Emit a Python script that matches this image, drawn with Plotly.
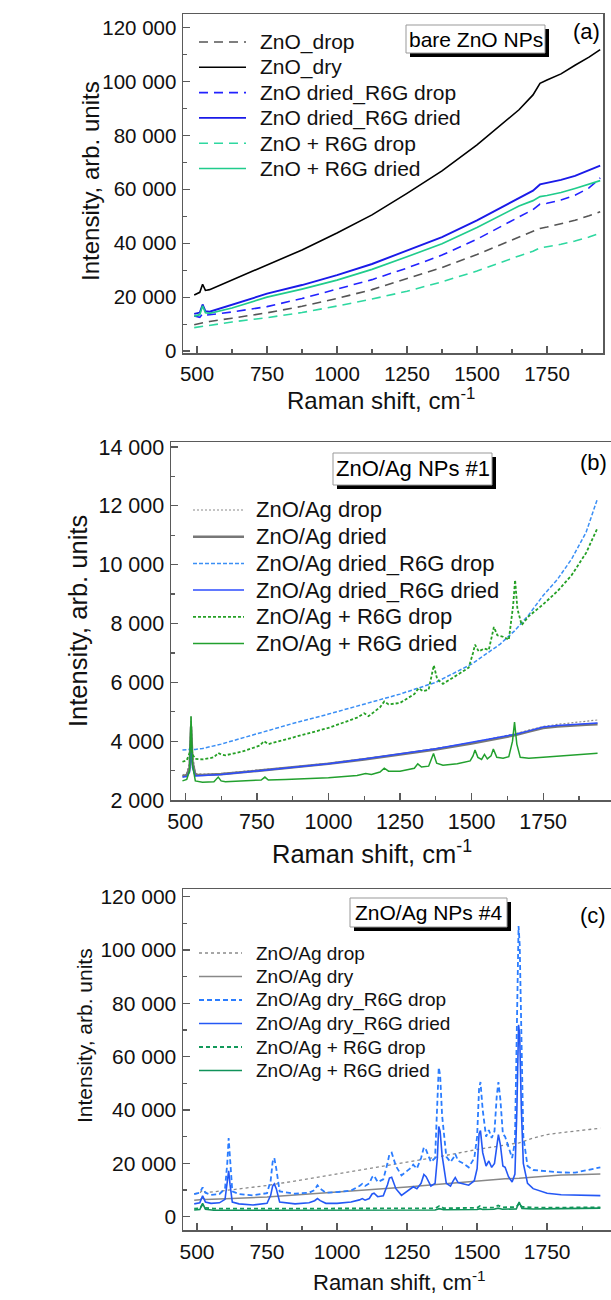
import plotly.graph_objects as go

# ---------------- Panel (a): bare ZnO NPs ----------------
a_x = [490, 510, 520, 530, 545, 625, 750, 875, 1000, 1125, 1250, 1375, 1500, 1600, 1650, 1700, 1725, 1750, 1800, 1850, 1900, 1940]
a_zno_drop = [9800, 10200, 10600, 10800, 11000, 12200, 14200, 16600, 19500, 22800, 26800, 31000, 35800, 40200, 42300, 44300, 45500, 46000, 47200, 48500, 50200, 51700]
a_zno_dry = [20800, 21800, 24800, 22500, 22800, 26300, 32000, 37500, 43800, 50500, 58500, 66800, 76500, 85000, 89500, 95000, 99300, 100500, 102800, 106000, 109000, 111800]
a_dried_r6g_drop = [13000, 12500, 13800, 13300, 13500, 14500, 16500, 19500, 23000, 26500, 30800, 35600, 41500, 47000, 50000, 52500, 54500, 54800, 56000, 57800, 60500, 64200]
a_dried_r6g_dried = [13800, 14300, 17300, 14800, 14600, 17200, 21300, 24500, 28200, 32300, 37300, 42300, 48500, 54000, 57000, 59500, 61800, 62300, 63500, 65000, 67000, 68800]
a_r6g_drop = [8700, 9000, 9300, 9400, 9600, 10800, 12400, 14300, 16700, 19300, 22200, 25700, 29700, 33500, 35300, 37000, 38300, 38700, 39600, 40800, 42300, 43800]
a_r6g_dried = [13000, 13500, 16800, 14200, 14000, 16000, 20000, 23000, 26300, 30300, 35000, 39800, 45800, 51300, 53800, 55800, 57300, 57700, 58800, 60300, 61800, 63200]

# ---------------- Panel (b): ZnO/Ag NPs #1 ----------------
b_x = [490, 505, 515, 520, 525, 535, 560, 625, 750, 875, 1000, 1125, 1250, 1375, 1500, 1600, 1650, 1700, 1750, 1800, 1850, 1900, 1940]
b_ag_drop = [2850, 2900, 3300, 4850, 3600, 2900, 2880, 2900, 3020, 3120, 3250, 3400, 3560, 3750, 3950, 4150, 4250, 4380, 4500, 4570, 4620, 4680, 4720]
b_ag_dried = [2800, 2850, 3100, 4500, 3300, 2850, 2850, 2880, 2990, 3100, 3230, 3380, 3540, 3720, 3920, 4100, 4200, 4330, 4450, 4500, 4540, 4560, 4580]
b_dried_r6g_drop = [3700, 3700, 3720, 3750, 3720, 3720, 3750, 3900, 4250, 4600, 4920, 5250, 5600, 6000, 6620, 7300, 7750, 8300, 8950, 9500, 10200, 11100, 12250]
b_dried_r6g_dried = [2780, 2800, 2950, 4000, 3100, 2820, 2830, 2870, 2990, 3100, 3230, 3390, 3560, 3740, 3960, 4130, 4230, 4350, 4480, 4530, 4570, 4600, 4620]

b_gd_x = [490, 505, 515, 520, 525, 535, 560, 600, 615, 625, 640, 700, 760, 775, 790, 850, 1000, 1100, 1125, 1140, 1180, 1195, 1210, 1250, 1300, 1315, 1330, 1350, 1362, 1368, 1380, 1400, 1450, 1490, 1505, 1512, 1525, 1545, 1560, 1570, 1578, 1590, 1610, 1630, 1645, 1652, 1660, 1675, 1700, 1750, 1800, 1850, 1900, 1940]
b_r6g_drop = [3300, 3350, 3600, 3950, 3550, 3400, 3380, 3450, 3600, 3550, 3520, 3650, 3850, 4000, 3900, 4050, 4450, 4800, 4950, 4850, 5150, 5350, 5250, 5300, 5600, 5800, 5700, 5750, 6300, 6580, 6100, 5950, 6250, 6500, 7000, 7280, 7050, 7150, 7100, 7500, 7880, 7600, 7550, 7450, 8600, 9480, 8500, 7950, 8250, 8650, 9100, 9650, 10400, 11250]

b_gs_x = [490, 505, 515, 520, 525, 535, 560, 600, 615, 625, 640, 700, 765, 778, 790, 850, 1000, 1100, 1130, 1150, 1180, 1195, 1210, 1250, 1300, 1312, 1325, 1350, 1360, 1367, 1378, 1400, 1450, 1495, 1505, 1512, 1522, 1535, 1545, 1555, 1568, 1576, 1588, 1610, 1630, 1643, 1650, 1658, 1670, 1700, 1750, 1800, 1850, 1900, 1940]
b_r6g_dried = [2650, 2700, 3000, 4850, 3200, 2650, 2600, 2620, 2780, 2650, 2620, 2640, 2680, 2780, 2680, 2700, 2760, 2830, 2900, 2870, 2950, 3080, 2980, 2980, 3080, 3230, 3120, 3150, 3400, 3580, 3250, 3180, 3230, 3330, 3500, 3700, 3450, 3380, 3550, 3400, 3500, 3730, 3450, 3420, 3470, 4000, 4650, 3900, 3450, 3420, 3450, 3480, 3510, 3550, 3590]

# ---------------- Panel (c): ZnO/Ag NPs #4 ----------------
c_bg_x = [490, 510, 520, 530, 625, 750, 875, 1000, 1125, 1250, 1375, 1500, 1600, 1650, 1700, 1750, 1800, 1850, 1900, 1940]
c_ag_drop = [8600, 8900, 10000, 9000, 10100, 11700, 13800, 16000, 18100, 20300, 22700, 25200, 27000, 27700, 29500, 30800, 31500, 32000, 32700, 33200]
c_ag_dry = [6150, 6300, 7000, 6400, 6800, 7400, 8300, 9200, 10100, 11100, 12300, 13500, 14200, 14400, 14800, 15400, 15600, 15750, 15900, 16000]

c_r6g_x = [490, 510, 520, 530, 550, 580, 600, 608, 613, 618, 626, 650, 700, 750, 763, 770, 776, 783, 795, 850, 900, 920, 930, 940, 960, 1000, 1050, 1080, 1090, 1100, 1115, 1125, 1132, 1145, 1165, 1180, 1187, 1195, 1210, 1230, 1260, 1272, 1285, 1300, 1310, 1318, 1335, 1350, 1358, 1363, 1368, 1375, 1390, 1405, 1415, 1422, 1432, 1450, 1470, 1490, 1500, 1507, 1512, 1520, 1532, 1542, 1552, 1562, 1570, 1576, 1583, 1592, 1600, 1612, 1625, 1635, 1642, 1648, 1652, 1658, 1665, 1680, 1700, 1750, 1800, 1850, 1900, 1940]
c_dry_r6g_drop = [8500, 9000, 11000, 9000, 8200, 8500, 10500, 20000, 29500, 20000, 9500, 8500, 8000, 8800, 13500, 20500, 22000, 18000, 9500, 8600, 9000, 10000, 11800, 10500, 9000, 9200, 9800, 11500, 12300, 11500, 12500, 14800, 15400, 13000, 14000, 20000, 23500, 24000, 19000, 15500, 18000, 19500, 18000, 22000, 26000, 25000, 20500, 22000, 40000, 56000, 53000, 38000, 22500, 20500, 22000, 23500, 21000, 20000, 18500, 22000, 30000, 48000, 50500, 40000, 30000, 32500, 29500, 32000, 45000, 50500, 44000, 31000, 30000, 26000, 22000, 28000, 70000, 109000, 102000, 62000, 30000, 19000, 17500, 17000, 16600, 16500, 17500, 18500]
c_dry_r6g_dried = [4800, 5200, 7800, 5500, 5000, 5200, 6500, 12000, 17200, 12000, 5500, 4800, 4400, 5000, 8000, 11500, 12300, 10500, 5500, 4800, 5200, 6000, 6800, 6000, 5000, 5000, 5500, 6300, 6800, 6200, 6800, 8500, 8800, 7500, 7800, 12000, 14500, 14800, 10500, 8000, 10500, 11200, 10500, 12500, 15800, 15000, 11500, 12500, 22000, 33800, 32000, 23000, 12500, 11500, 13500, 14700, 12800, 12200, 11800, 13500, 18000, 31000, 32300, 24000, 19000, 20900, 18500, 20000, 27000, 30800, 27000, 19000, 18500, 15000, 13000, 16000, 40000, 72000, 68000, 40000, 20000, 12500, 10500, 8800, 8200, 8000, 7800, 7900]

c_g_x = [490, 510, 520, 530, 560, 1000, 1350, 1365, 1380, 1500, 1510, 1520, 1560, 1575, 1590, 1640, 1650, 1660, 1700, 1800, 1940]
c_r6g_drop = [3000, 3200, 4500, 3300, 3000, 3000, 3100, 4000, 3200, 3300, 4000, 3400, 3400, 4200, 3500, 3600, 5000, 3700, 3400, 3400, 3500]
c_r6g_dried = [2500, 2700, 5000, 2800, 2400, 2400, 2500, 3000, 2600, 2700, 3000, 2700, 2800, 3200, 2800, 2900, 5500, 3100, 2900, 3000, 3200]

x_ticks = [500, 750, 1000, 1250, 1500, 1750]
x_title = "Raman shift, cm<sup>-1</sup>"
y_title = "Intensity, arb. units"
box_labels = ["bare ZnO NPs", "ZnO/Ag NPs #1", "ZnO/Ag NPs #4"]
panel_tags = ["(a)", "(b)", "(c)"]

FONT = "Arial, 'Liberation Sans', sans-serif"
INK = "#111111"
FRAME = "#5a5a5a"
W, H = 611, 1300


def px_x(p):
    return p / W


def px_y(p):
    return 1 - p / H


# series: (x, y, name, color, dash, width)
series_a = [
    (a_x, a_zno_drop, "ZnO_drop", "#555555", "9px,6px", 1.6),
    (a_x, a_zno_dry, "ZnO_dry", "#000000", "solid", 1.6),
    (a_x, a_dried_r6g_drop, "ZnO dried_R6G drop", "#2222ff", "9px,6px", 1.6),
    (a_x, a_dried_r6g_dried, "ZnO dried_R6G dried", "#1a1ae8", "solid", 1.9),
    (a_x, a_r6g_drop, "ZnO + R6G drop", "#2ed8a0", "9px,6px", 1.6),
    (a_x, a_r6g_dried, "ZnO + R6G dried", "#20cc8c", "solid", 1.7),
]
series_b = [
    (b_x, b_ag_drop, "ZnO/Ag drop", "#8a8a8a", "2px,2px", 1.2),
    (b_x, b_ag_dried, "ZnO/Ag dried", "#777777", "solid", 2.6),
    (b_x, b_dried_r6g_drop, "ZnO/Ag dried_R6G drop", "#3b8ff5", "4px,2px", 1.5),
    (b_x, b_dried_r6g_dried, "ZnO/Ag dried_R6G dried", "#2d4dff", "solid", 1.5),
    (b_gd_x, b_r6g_drop, "ZnO/Ag + R6G drop", "#25a025", "3px,2px", 1.8),
    (b_gs_x, b_r6g_dried, "ZnO/Ag + R6G dried", "#22a02e", "solid", 1.5),
]
series_c = [
    (c_bg_x, c_ag_drop, "ZnO/Ag drop", "#8a8a8a", "3px,3px", 1.3),
    (c_bg_x, c_ag_dry, "ZnO/Ag dry", "#888888", "solid", 1.5),
    (c_r6g_x, c_dry_r6g_drop, "ZnO/Ag dry_R6G drop", "#2b7dff", "5px,3px", 1.8),
    (c_r6g_x, c_dry_r6g_dried, "ZnO/Ag dry_R6G dried", "#2458f5", "solid", 1.6),
    (c_g_x, c_r6g_drop, "ZnO/Ag + R6G drop", "#12995a", "4px,3px", 1.8),
    (c_g_x, c_r6g_dried, "ZnO/Ag + R6G dried", "#10925a", "solid", 1.6),
]

# layout geometry per panel (pixels in the 611x1300 page)
panels = [
    dict(suf="", series=series_a, l=183, r=603, t=14, b=353, xr=[450, 1950], yr=[-700, 125000], ydt=20000,
         tick_size=20.5, leg=(199, 246, 258, 42, 25.3, 21),
         xt=(381, 399, 24), yt=(90, 181, 24),
         box=(406, 545, 25, 53, 21), tag=(586, 32)),
    dict(suf="2", series=series_b, l=171, r=611, t=442, b=800, xr=[450, 1987], yr=[2000, 14170], ydt=2000,
         tick_size=21.5, leg=(193, 244, 254, 510, 26.7, 22),
         xt=(372, 852, 25.5), yt=(78, 621, 25.5),
         box=(333, 492, 453, 485, 22), tag=(593, 462)),
    dict(suf="3", series=series_c, l=183, r=611, t=889, b=1230, xr=[450, 1978], yr=[-5000, 122900], ydt=20000,
         tick_size=21, leg=(199, 242, 254, 953, 23.5, 19),
         xt=(399, 1281, 22), yt=(84, 1036, 21),
         box=(350, 507, 898, 927, 21), tag=(593, 915)),
]

fig = go.Figure()
shapes = []
annotations = []

for p in panels:
    suf = p["suf"]
    xa_id = "x" + suf
    ya_id = "y" + suf
    for sx, sy, name, color, dash, width in p["series"]:
        fig.add_trace(go.Scatter(x=sx, y=sy, name=name, mode="lines", showlegend=False,
                                 line=dict(color=color, dash=dash, width=width),
                                 xaxis=xa_id, yaxis=ya_id))

    common = dict(showline=True, linecolor=FRAME, linewidth=1.5, mirror=True,
                  showgrid=False, zeroline=False, ticks="inside", tickcolor=FRAME,
                  ticklen=7, tickwidth=1.3, automargin=False,
                  tickfont=dict(family=FONT, size=p["tick_size"], color=INK))
    fig.layout["xaxis" + suf] = dict(common, domain=[px_x(p["l"]), px_x(p["r"])], range=p["xr"],
                                     tickmode="array", tickvals=x_ticks, anchor=ya_id,
                                     ticklabelstandoff=2,
                                     minor=dict(ticks="inside", tick0=500, dtick=125, ticklen=4,
                                                tickcolor=FRAME, tickwidth=1.2))
    fig.layout["yaxis" + suf] = dict(common, domain=[px_y(p["b"]), px_y(p["t"])], range=p["yr"],
                                     tick0=0, dtick=p["ydt"], tickformat=",d", anchor=xa_id,
                                     ticklabelstandoff=1,
                                     minor=dict(ticks="inside", tick0=0, dtick=p["ydt"] / 2, ticklen=4,
                                                tickcolor=FRAME, tickwidth=1.2))

    # axis titles
    tx, ty, ts = p["xt"]
    annotations.append(dict(x=px_x(tx), y=px_y(ty), xref="paper", yref="paper", text=x_title,
                            showarrow=False, xanchor="center", yanchor="middle",
                            font=dict(family=FONT, size=ts, color=INK)))
    tx, ty, ts = p["yt"]
    annotations.append(dict(x=px_x(tx), y=px_y(ty), xref="paper", yref="paper", text=y_title,
                            showarrow=False, xanchor="center", yanchor="middle", textangle=-90,
                            font=dict(family=FONT, size=ts, color=INK)))

    # legend (line samples + labels)
    lx0, lx1, ltx, ly0, ldy, lfs = p["leg"]
    for i, (sx, sy, name, color, dash, width) in enumerate(p["series"]):
        yy = ly0 + i * ldy
        shapes.append(dict(type="line", xref="paper", yref="paper",
                           x0=px_x(lx0), x1=px_x(lx1), y0=px_y(yy), y1=px_y(yy),
                           line=dict(color=color, dash=dash, width=width)))
        annotations.append(dict(x=px_x(ltx), y=px_y(yy), xref="paper", yref="paper", text=name,
                                showarrow=False, xanchor="left", yanchor="middle",
                                font=dict(family=FONT, size=lfs, color=INK)))

    # label box with shadow
    bx0, bx1, by0, by1, bfs = p["box"]
    shapes.append(dict(type="rect", xref="paper", yref="paper",
                       x0=px_x(bx0 + 4), x1=px_x(bx1 + 4), y0=px_y(by0 + 4), y1=px_y(by1 + 4),
                       fillcolor="#000000", line=dict(width=0)))
    shapes.append(dict(type="rect", xref="paper", yref="paper",
                       x0=px_x(bx0), x1=px_x(bx1), y0=px_y(by0), y1=px_y(by1),
                       fillcolor="#ffffff", line=dict(color="#999999", width=1)))
    idx = ["", "2", "3"].index(suf)
    annotations.append(dict(x=px_x((bx0 + bx1) / 2), y=px_y((by0 + by1) / 2), xref="paper", yref="paper",
                            text=box_labels[idx], showarrow=False,
                            xanchor="center", yanchor="middle",
                            font=dict(family=FONT, size=bfs, color="#000000")))
    tgx, tgy = p["tag"]
    annotations.append(dict(x=px_x(tgx), y=px_y(tgy), xref="paper", yref="paper",
                            text=panel_tags[idx], showarrow=False,
                            xanchor="center", yanchor="middle",
                            font=dict(family=FONT, size=22, color="#000000")))

fig.update_layout(width=W, height=H, margin=dict(l=0, r=0, t=0, b=0),
                  paper_bgcolor="#ffffff", plot_bgcolor="#ffffff",
                  separators=". ", showlegend=False, hovermode=False,
                  shapes=shapes, annotations=annotations)

fig.write_html("out.html", config={"displayModeBar": False, "staticPlot": True},
               post_script="document.body.style.margin='0px';")
